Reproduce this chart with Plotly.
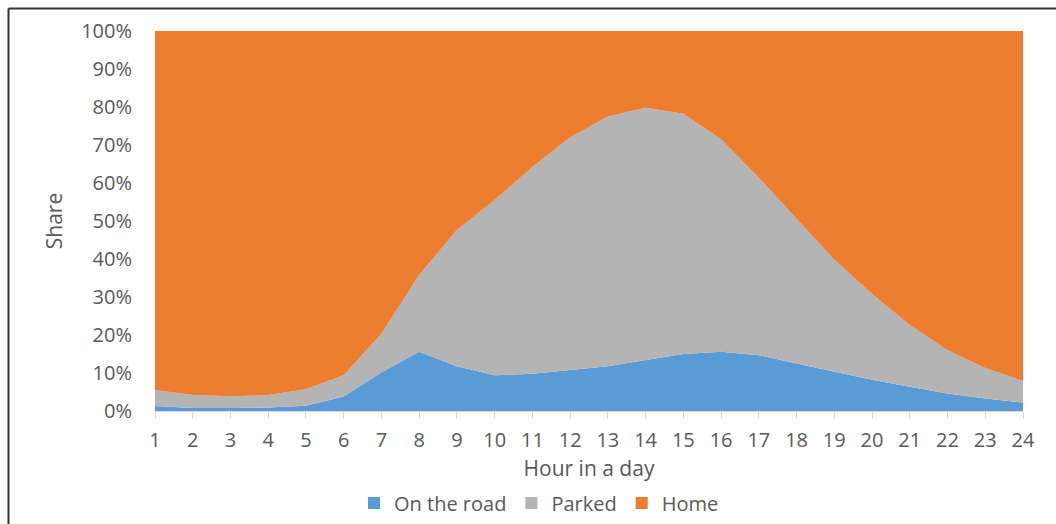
import plotly.graph_objects as go

# Hourly shares (%) of vehicles by location, hours 1..24
hours = list(range(1, 25))
on_the_road = [1.3, 0.8, 0.8, 0.9, 1.4, 3.8, 10.2, 15.6, 11.8, 9.4, 9.8, 10.8,
               11.8, 13.4, 15.0, 15.6, 14.7, 12.5, 10.4, 8.2, 6.4, 4.6, 3.3, 2.2]
parked = [4.2, 3.4, 3.1, 3.3, 4.3, 5.6, 10.1, 20.2, 35.8, 46.1, 54.4, 61.2,
          65.7, 66.4, 63.2, 55.9, 46.7, 38.0, 29.4, 22.6, 16.2, 11.4, 8.0, 5.7]
home = [94.5, 95.8, 96.1, 95.8, 94.3, 90.6, 79.7, 64.2, 52.4, 44.5, 35.8, 28.0,
        22.5, 20.2, 21.8, 28.5, 38.6, 49.5, 60.2, 69.2, 77.4, 84.0, 88.7, 92.1]
y_ticks = [0, 10, 20, 30, 40, 50, 60, 70, 80, 90, 100]
y_tick_labels = [f"{v}%" for v in y_ticks]

series = [
    ("On the road", on_the_road, "#5B9BD5"),
    ("Parked", parked, "#B4B4B4"),
    ("Home", home, "#ED7D31"),
]

fig = go.Figure()
for name, vals, color in series:
    fig.add_trace(go.Scatter(
        x=hours, y=vals, name=name, mode="lines",
        stackgroup="share", line=dict(width=0, color=color),
        fillcolor=color, hoverinfo="x+y+name", showlegend=False,
    ))
# square legend keys
for name, _, color in series:
    fig.add_trace(go.Bar(
        x=[None], y=[None], name=name, marker=dict(color=color, line=dict(width=0)),
        showlegend=True, hoverinfo="skip",
    ))

# plot area in pixels: x 155..1023, y 31..411
W, H = 1056, 524
L, R, T, B = 155, 33, 31, 113
pw, ph = W - L - R, H - T - B


def px(x):
    return (x - L) / pw


def py(y):
    return (H - B - y) / ph


text_color = "#595959"
fig.update_layout(
    width=W, height=H,
    margin=dict(l=L, r=R, t=T, b=B, autoexpand=False),
    paper_bgcolor="white", plot_bgcolor="white",
    font=dict(family="Open Sans, sans-serif", color=text_color, size=20),
    showlegend=True,
    legend=dict(orientation="h", x=px(539), xanchor="center",
                y=py(503), yanchor="middle", font=dict(size=20),
                traceorder="normal", itemwidth=30, tracegroupgap=0),
    xaxis=dict(
        range=[1, 24], tickmode="array", tickvals=hours,
        showgrid=False, zeroline=False,
        showline=True, linecolor="#D9D9D9", linewidth=1,
        ticks="outside", ticklen=7, tickcolor="#D9D9D9",
        ticklabelstandoff=4,
        tickfont=dict(size=20, color=text_color),
        title=dict(text="Hour in a day", font=dict(size=21, color=text_color),
                   standoff=9),
    ),
    yaxis=dict(
        range=[0, 100], tickmode="array", tickvals=y_ticks,
        ticktext=y_tick_labels, showgrid=False, zeroline=False, showline=False,
        ticklabelstandoff=22,
        tickfont=dict(size=20, color=text_color),
        title=dict(text="Share", font=dict(size=21, color=text_color),
                   standoff=12),
    ),
    shapes=[
        dict(type="line", xref="paper", yref="paper",
             x0=px(8.5), x1=px(1060), y0=py(8.5), y1=py(8.5),
             line=dict(color="#333333", width=2)),
        dict(type="line", xref="paper", yref="paper",
             x0=px(8.5), x1=px(8.5), y0=py(8.5), y1=py(530),
             line=dict(color="#333333", width=2)),
    ],
)

fig.write_html("out.html")
